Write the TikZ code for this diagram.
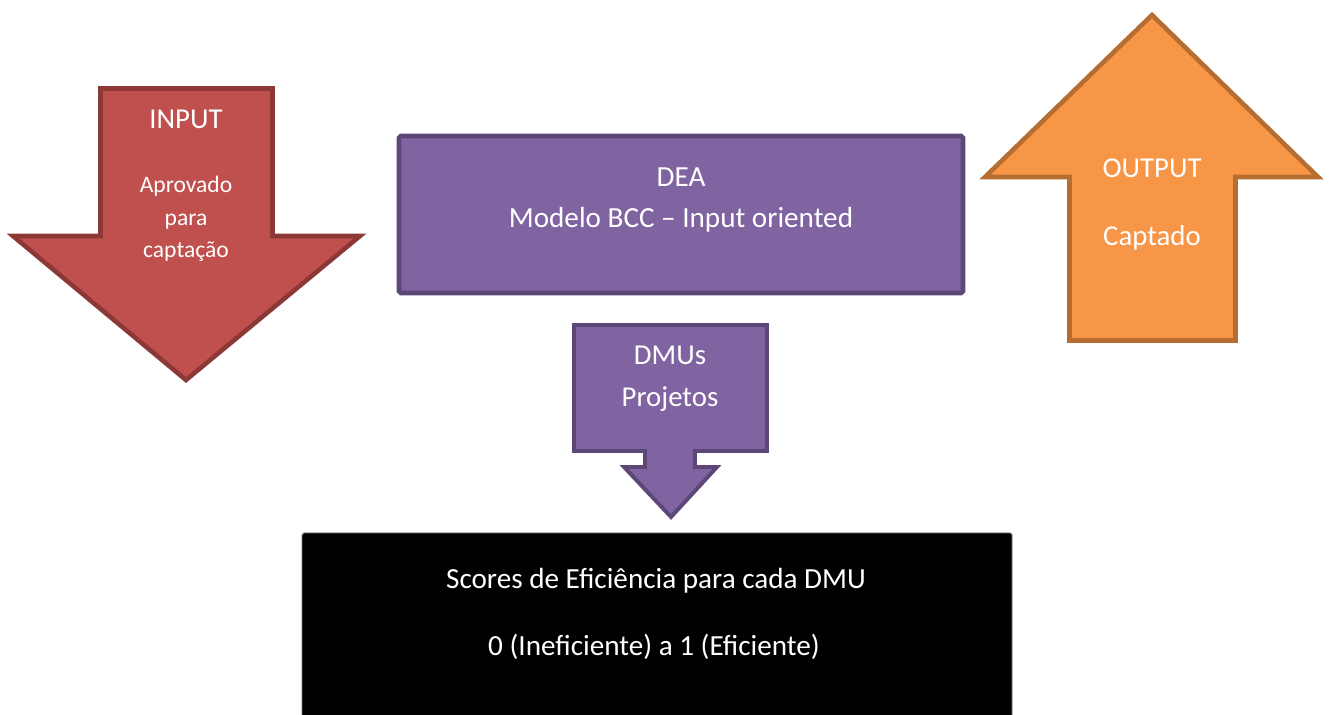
\documentclass[tikz,border=0pt]{standalone}
\usepackage{fontspec}
\setmainfont{Carlito}
\definecolor{inputred}{HTML}{C0504D}
\definecolor{inputredline}{HTML}{8C3836}
\definecolor{deapurple}{HTML}{8064A2}
\definecolor{deapurpleline}{HTML}{5C4776}
\definecolor{outputorange}{HTML}{F79646}
\definecolor{outputorangeline}{HTML}{B66D31}

\begin{document}
\begin{tikzpicture}[x=0.02cm, y=-0.02cm,
                redarrow/.style={fill=inputred, draw=inputredline, line width=2.6pt, line join=miter},
                purplebox/.style={fill=deapurple, draw=deapurpleline, line width=2.6pt, rounded corners=1pt},
                purplearrow/.style={fill=deapurple, draw=deapurpleline, line width=2.2pt, line join=miter},
                orangearrow/.style={fill=outputorange, draw=outputorangeline, line width=2.6pt, line join=miter},
                blackbox/.style={fill=black, draw=black!55, line width=0.4pt, rounded corners=1pt},
                whitetext/.style={text=white, anchor=base, inner sep=0pt},
                bigtext/.style={whitetext, font=\fontsize{16.4}{20}\selectfont},
                midtext/.style={whitetext, font=\fontsize{16.6}{20}\selectfont},
                smalltext/.style={whitetext, font=\fontsize{13.4}{16}\selectfont},
                ]
                \useasboundingbox (0,0) rectangle (1331,715);

                % input arrow
                \draw[redarrow] (100.5,88.5) -- (272.5,88.5) -- (272.5,236) -- (360,236)
                    -- (186,380) -- (13,236) -- (100.5,236) -- cycle;
                \node[bigtext] (IN) at (186,129) {INPUT};
                \node[smalltext] (INA) at (186,193) {Aprovado};
                \node[smalltext] (INB) at (186,226) {para};
                \node[smalltext] (INC) at (186,258) {captação};

                % DEA model
                \draw[purplebox] (399,136) rectangle (963,293);
                \node[midtext] (DEA) at (681,187) {DEA};
                \node[midtext] (BCC) at (681,228) {Modelo BCC -- Input oriented};

                % output arrow
                \draw[orangearrow] (1069.5,340.5) -- (1069.5,177) -- (985,177) -- (1152,15)
                    -- (1318,177) -- (1235.5,177) -- (1235.5,340.5) -- cycle;
                \node[bigtext] (OUT) at (1152,178) {OUTPUT};
                \node[bigtext] (OUTA) at (1152,246) {Captado};

                % DMUs callout
                \draw[purplearrow] (574,325) -- (767,325) -- (767,451) -- (695,451) -- (695,467)
                    -- (717,467) -- (671,517) -- (624,467) -- (645,467) -- (645,451) -- (574,451) -- cycle;
                \node[bigtext] (DMU) at (670,365) {DMUs};
                \node[bigtext] (PRJ) at (670,407) {Projetos};

                % efficiency scores
                \draw[blackbox] (302,533) rectangle (1012,720);
                \node[midtext] (SC) at (656,588) {Scores de Eficiência para cada DMU};
                \node[midtext] (SCR) at (654,655) {0 (Ineficiente) a 1 (Eficiente)};
            \end{tikzpicture}
\end{document}
